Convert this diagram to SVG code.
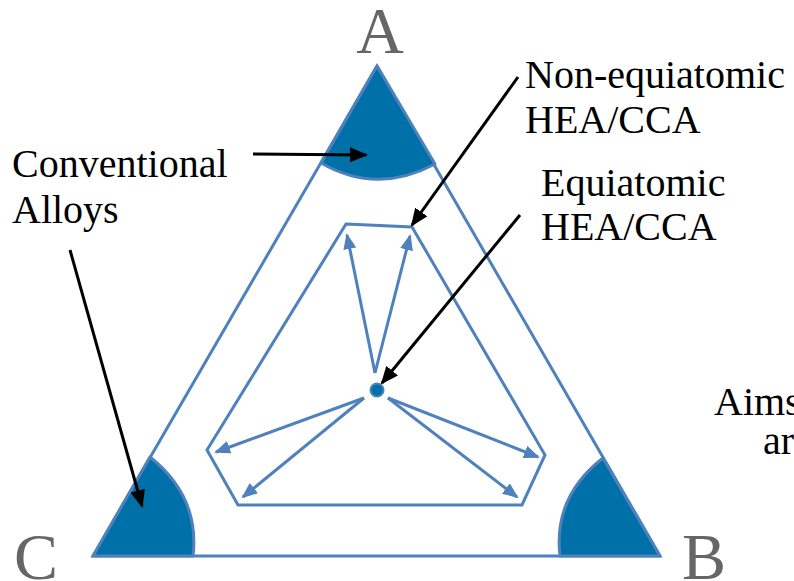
<svg xmlns="http://www.w3.org/2000/svg" width="794" height="581" viewBox="0 0 794 581">
<style>
.lbl{font-family:"Liberation Serif","Times New Roman",serif;font-size:40px;fill:#000}
.vtx{font-family:"Liberation Serif","Times New Roman",serif;font-size:66px;fill:#666}
.edge{fill:none;stroke:#4F81BD;stroke-width:3;stroke-linejoin:miter}
.sector{fill:#0070A8;stroke:#4F81BD;stroke-width:3;stroke-linejoin:round}
.barr{stroke:#4F81BD;stroke-width:3;fill:none}
.karr{stroke:#000;stroke-width:3;fill:none}
</style>
<defs>
<marker id="bh" markerUnits="userSpaceOnUse" markerWidth="16" markerHeight="13" refX="14" refY="6.5" orient="auto">
<path d="M0,0 L16,6.5 L0,13 Z" fill="#4F81BD"/>
</marker>
<marker id="kh" markerUnits="userSpaceOnUse" markerWidth="18" markerHeight="15" refX="16" refY="7.5" orient="auto">
<path d="M0,0 L18,7.5 L0,15 Z" fill="#000"/>
</marker>
</defs>
<g id="triangle">
<path class="edge" d="M377,66 L660,556 L93,556 Z"/>
</g>
<g id="sectorA"><path class="sector" d="M377,66 L321,163 Q377,195 435,164 Z"/></g>
<g id="sectorC"><path class="sector" d="M93,556 L150,457 Q200,497 193,556 Z"/></g>
<g id="sectorB"><path class="sector" d="M660,556 L603,458 Q553,497 560,556 Z"/></g>
<g id="hexagon">
<path class="edge" d="M346,224 L412,227 L545,455 L522,505 L238,505 L207,450 Z"/>
</g>
<g id="center"><circle cx="377" cy="390" r="6.5" fill="#0070A8" stroke="#4F81BD" stroke-width="2"/></g>
<g id="connectors">
<line class="barr" x1="375" y1="373" x2="347" y2="235" marker-end="url(#bh)"/>
<line class="barr" x1="375" y1="373" x2="410" y2="236" marker-end="url(#bh)"/>
<line class="barr" x1="364" y1="398" x2="216" y2="452" marker-end="url(#bh)"/>
<line class="barr" x1="364" y1="398" x2="243" y2="497" marker-end="url(#bh)"/>
<line class="barr" x1="388" y1="398" x2="538" y2="457" marker-end="url(#bh)"/>
<line class="barr" x1="388" y1="398" x2="517" y2="497" marker-end="url(#bh)"/>
<line class="karr" x1="253" y1="154" x2="366" y2="155" marker-end="url(#kh)"/>
<line class="karr" x1="70" y1="250" x2="142" y2="506" marker-end="url(#kh)"/>
<line class="karr" x1="518" y1="77" x2="412" y2="225" marker-end="url(#kh)"/>
<line class="karr" x1="520" y1="215" x2="382" y2="383" marker-end="url(#kh)"/>
</g>
<g id="labels">
<text class="vtx" x="380" y="53" text-anchor="middle">A</text>
<text class="vtx" x="14" y="579">C</text>
<text class="vtx" x="682" y="579">B</text>
<text class="lbl" x="12" y="177">Conventional</text>
<text class="lbl" x="12" y="223">Alloys</text>
<text class="lbl" x="525" y="88">Non-equiatomic</text>
<text class="lbl" x="525" y="133">HEA/CCA</text>
<text class="lbl" x="541" y="196">Equiatomic</text>
<text class="lbl" x="541" y="240">HEA/CCA</text>
<text class="lbl" x="714" y="415">Aims</text>
<text class="lbl" x="763" y="454">ar</text>
</g>
</svg>
